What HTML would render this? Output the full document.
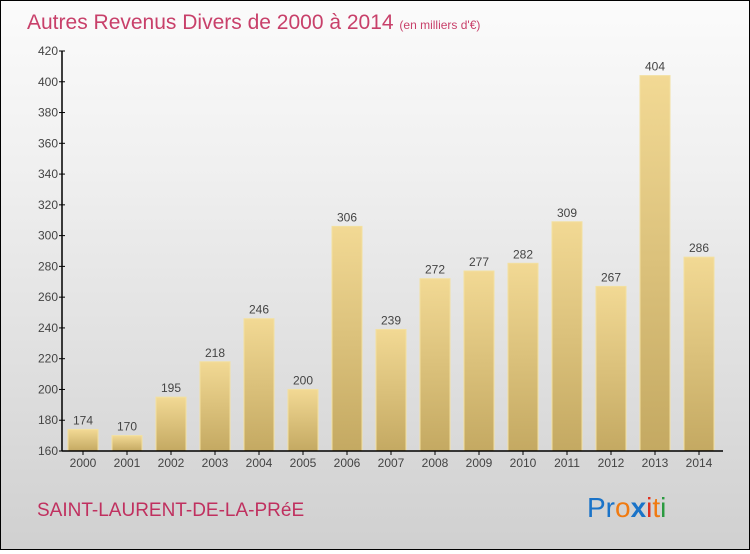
<!DOCTYPE html>
<html><head><meta charset="utf-8"><style>
body{margin:0;width:750px;height:550px;overflow:hidden;font-family:"Liberation Sans",sans-serif}
#c{position:absolute;left:0;top:0;width:748px;height:548px;border:1px solid #000;background:linear-gradient(#fbfbfb,#f0f0f0 30%,#d0d0d0)}
</style></head><body>
<div id="c">
<svg width="748" height="548">
<defs><linearGradient id="g" x1="0" y1="0" x2="0" y2="1"><stop offset="0" stop-color="#f2d994"/><stop offset="1" stop-color="#c4a962"/></linearGradient></defs>
<text x="26" y="28" font-size="21" fill="#c8406a">Autres Revenus Divers de 2000 à 2014 <tspan font-size="12">(en milliers d'€)</tspan></text>
<g id="plot"></g>
<text x="36" y="515" font-size="19" fill="#c0305f">SAINT-LAURENT-DE-LA-PRéE</text>
<text x="586" y="516" font-size="28"><tspan fill="#1a73c8">Pr</tspan><tspan fill="#f07a10">o</tspan><tspan fill="#1a73c8" font-weight="bold">x</tspan><tspan fill="#e03020">i</tspan><tspan fill="#f07a10">t</tspan><tspan fill="#2a9a40">i</tspan></text>
</svg></div>
<script>
const years=["2000","2001","2002","2003","2004","2005","2006","2007","2008","2009","2010","2011","2012","2013","2014"];
const values=[174,170,195,218,246,200,306,239,272,277,282,309,267,404,286];
const ticks=[160,180,200,220,240,260,280,300,320,340,360,380,400,420];
const ns="http://www.w3.org/2000/svg",p=document.getElementById('plot');
const y=v=>450-(v-160)*400/260, x=i=>82+i*44;
function mk(t,a){const e=document.createElementNS(ns,t);for(const k in a)e.setAttribute(k,a[k]);p.appendChild(e);return e;}
values.forEach((v,i)=>{
 const r=mk('rect',{x:x(i)-15,y:y(v),width:30,height:450-y(v),fill:'url(#g)',stroke:'#f3e0a0','stroke-width':1});
 
 
 const t=mk('text',{x:x(i),y:y(v)-5,'font-size':12,fill:'#444','text-anchor':'middle'});t.textContent=v;
 
 
 const l=mk('text',{x:x(i),y:466,'font-size':12,fill:'#444','text-anchor':'middle'});l.textContent=years[i];
 
 
 mk('line',{x1:x(i),x2:x(i),y1:450,y2:454,stroke:'#000'});
});
ticks.forEach(v=>{
 mk('line',{x1:58,x2:64,y1:y(v),y2:y(v),stroke:'#000'});
 const t=mk('text',{x:57,y:y(v)+4,'font-size':12,fill:'#444','text-anchor':'end'});t.textContent=v;
 
 
});
const ya=mk('line',{x1:61,x2:61,y1:50,y2:450,stroke:'#000','stroke-width':1.5});


const xa=mk('line',{x1:61,x2:722,y1:450,y2:450,stroke:'#000','stroke-width':1.5});


</script>
</body></html>
